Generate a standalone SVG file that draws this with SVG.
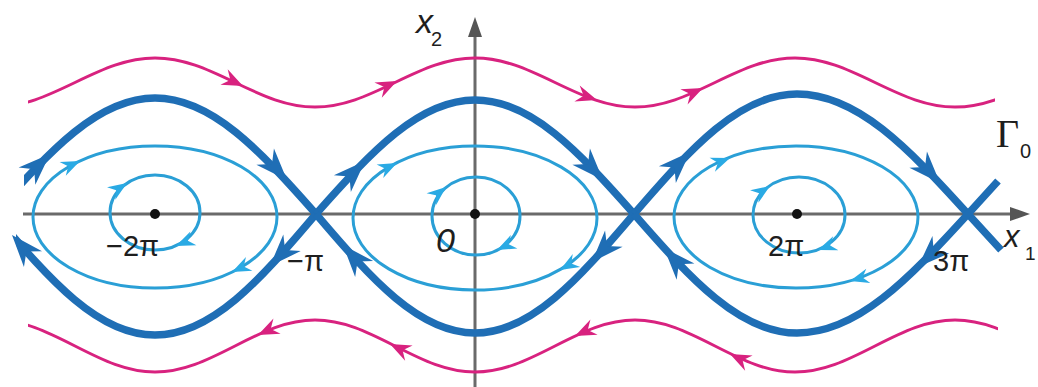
<svg xmlns="http://www.w3.org/2000/svg" width="1038" height="387" viewBox="0 0 1038 387">
<style>
.axis{stroke:#6a6a6a;stroke-width:3;fill:none}
.sep{stroke:#1f6eb5;stroke-width:7.5;fill:none;stroke-linejoin:round}
.orb{stroke:#2a9fd6;stroke-width:3;fill:none}
.mag{stroke:#d8227f;stroke-width:3;fill:none}
.lbl{font-family:"Liberation Sans",Arial,sans-serif;fill:#1e1e1e}
.tick{font-size:29px}
</style>
<defs>
<path id="ahB" d="M0,0 L-32,-12 L-22,0 L-32,12 Z" fill="#1f6eb5"/>
<path id="ahL" d="M0,0 L-19,-7.5 L-13,0 L-19,7.5 Z" fill="#2aaae4"/>
<path id="ahM" d="M0,0 L-21,-8.5 L-14,0 L-21,8.5 Z" fill="#d8227f"/>
<clipPath id="cU"><rect x="24" y="0" width="1014" height="387"/></clipPath>
<clipPath id="cL"><rect x="16" y="0" width="1022" height="387"/></clipPath>
<clipPath id="cMt"><rect x="28" y="0" width="967" height="387"/></clipPath>
<clipPath id="cMb"><rect x="28" y="0" width="970" height="387"/></clipPath>
</defs>
<rect width="1038" height="387" fill="#fff"/>

<g id="axes">
<line class="axis" x1="23" y1="214" x2="1012" y2="214"/>
<path d="M1030,214 L1010,207 L1010,221 Z" fill="#555"/>
<line class="axis" x1="475" y1="35" x2="475" y2="387"/>
<path d="M475,17 L468,37 L482,37 Z" fill="#555"/>
</g>

<g id="magenta-orbits">
<path class="mag" clip-path="url(#cMt)" d="M-5,107 C23.13,107 46.87,96.03 75,82.5 S126.87,58 155,58 S206.87,68.97 235,82.5 S286.87,107 315,107 S366.87,96.03 395,82.5 S446.87,58 475,58 S526.87,68.97 555,82.5 S606.87,107 635,107 S686.87,96.03 715,82.5 S766.87,58 795,58 S846.87,68.97 875,82.5 S926.87,107 955,107 S1006.87,96.03 1035,82.5"/>
<path class="mag" clip-path="url(#cMb)" d="M-5,320 C23.13,320 46.87,331.64 75,346 S126.87,372 155,372 S206.87,360.36 235,346 S286.87,320 315,320 S366.87,331.64 395,346 S446.87,372 475,372 S526.87,360.36 555,346 S606.87,320 635,320 S686.87,331.64 715,346 S766.87,372 795,372 S846.87,360.36 875,346 S926.87,320 955,320 S1006.87,331.64 1035,346"/>
<use href="#ahM" transform="translate(243,86) rotate(25.4)"/>
<use href="#ahM" transform="translate(397,81) rotate(-25.7)"/>
<use href="#ahM" transform="translate(597,100) rotate(18)"/>
<use href="#ahM" transform="translate(703,88) rotate(-25)"/>
<use href="#ahM" transform="translate(258,335) rotate(155)"/>
<use href="#ahM" transform="translate(390,344) rotate(206)"/>
<use href="#ahM" transform="translate(575,336) rotate(155)"/>
<use href="#ahM" transform="translate(730,354) rotate(206)"/>
</g>

<g id="closed-orbits">
<ellipse class="orb" cx="155" cy="217" rx="122" ry="71"/>
<ellipse class="orb" cx="475" cy="218" rx="122" ry="72"/>
<ellipse class="orb" cx="796" cy="217" rx="122" ry="71"/>
<ellipse class="orb" cx="155" cy="212.5" rx="45" ry="37.5"/>
<ellipse class="orb" cx="476" cy="216" rx="44" ry="39"/>
<ellipse class="orb" cx="799" cy="215" rx="46" ry="38"/>
<use href="#ahL" transform="translate(80,161) rotate(-24.4)"/>
<use href="#ahL" transform="translate(232,272) rotate(154.7)"/>
<use href="#ahL" transform="translate(397,163) rotate(-26.1)"/>
<use href="#ahL" transform="translate(560,270) rotate(150.2)"/>
<use href="#ahL" transform="translate(730,158) rotate(-20.9)"/>
<use href="#ahL" transform="translate(850,281) rotate(164.3)"/>
<use href="#ahL" transform="translate(127,183) rotate(-33.5)"/>
<use href="#ahL" transform="translate(176,246) rotate(156.3)"/>
<use href="#ahL" transform="translate(446,187) rotate(-39.6)"/>
<use href="#ahL" transform="translate(497,250) rotate(154.3)"/>
<use href="#ahL" transform="translate(770,186) rotate(-33.8)"/>
<use href="#ahL" transform="translate(818,250) rotate(159.5)"/>
</g>

<g id="separatrix">
<path class="sep" clip-path="url(#cU)" d="M-6,214 C50.6,149.93 98.4,98 155,98 S259.4,149.93 316,214"/>
<path class="sep" clip-path="url(#cL)" d="M-6,214 C50.6,280.83 98.4,335 155,335 S259.4,280.83 316,214"/>
<path class="sep" d="M316,214 C371.9,151.04 419.1,100 475,100 S578.1,151.04 634,214"/>
<path class="sep" d="M316,214 C371.9,279.72 419.1,333 475,333 S578.1,279.72 634,214"/>
<path class="sep" d="M634,214 C691.3,147.72 739.7,94 797,94 C857.1,94 907.9,147.72 968,214 L1001,250"/>
<path class="sep" d="M634,214 C691.3,279.72 739.7,333 797,333 C857.1,333 907.9,279.72 968,214 L998,181"/>
<use href="#ahB" transform="translate(50,154) rotate(-44)"/>
<use href="#ahB" transform="translate(287,180) rotate(47)"/>
<use href="#ahB" transform="translate(365,161) rotate(-45)"/>
<use href="#ahB" transform="translate(603,180) rotate(47)"/>
<use href="#ahB" transform="translate(690,152) rotate(-45)"/>
<use href="#ahB" transform="translate(940,183) rotate(47)"/>
<use href="#ahB" transform="translate(270,266) rotate(133.5)"/>
<use href="#ahB" transform="translate(12,235) rotate(229)"/>
<use href="#ahB" transform="translate(592,262) rotate(133)"/>
<use href="#ahB" transform="translate(343,245) rotate(228.6)"/>
<use href="#ahB" transform="translate(918,267) rotate(135.6)"/>
<use href="#ahB" transform="translate(664,248) rotate(227.7)"/>
</g>

<g id="equilibria" fill="#111">
<circle cx="155" cy="214" r="5"/>
<circle cx="475" cy="214" r="5"/>
<circle cx="797" cy="214" r="5"/>
</g>

<g id="labels" class="lbl">
<text x="416" y="33" font-size="34" font-style="italic">x</text>
<text x="431" y="46" font-size="20">2</text>
<text x="1004" y="247" font-size="31" font-style="italic">x</text>
<text x="1025" y="260" font-size="19">1</text>
<text x="996" y="147" font-size="40" font-family="'Liberation Serif',serif">Γ</text>
<text x="1020" y="158" font-size="20">0</text>
<text class="tick" x="106" y="256">−2π</text>
<text class="tick" x="287" y="271">−π</text>
<text x="436" y="252" font-size="34" font-style="italic">0</text>
<text class="tick" x="768" y="256">2π</text>
<text class="tick" x="933" y="271">3π</text>
</g>
</svg>
